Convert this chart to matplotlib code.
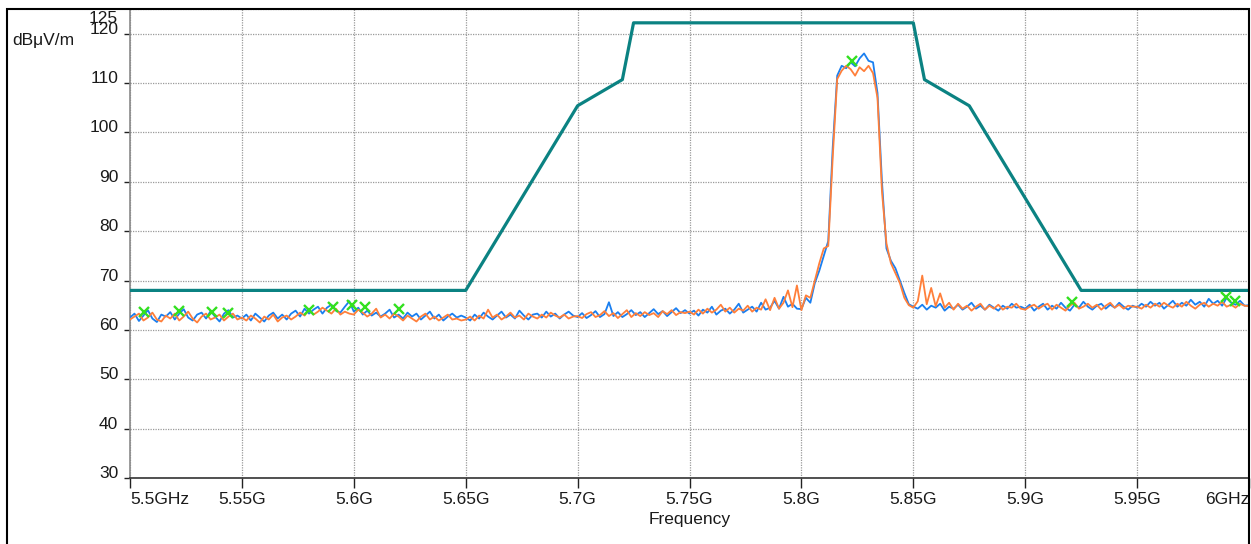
"""
EMC scan: measured field strength traces against a limit mask (5.5 - 6 GHz).
"""
import numpy as np
import matplotlib.pyplot as plt
from matplotlib.patches import Rectangle

plt.rcParams['font.family'] = ['Liberation Sans', 'DejaVu Sans']

# sweep grid, 2 MHz steps, GHz
freq = np.linspace(5.5, 6.0, 251)

# trace 1 (blue), dBuV/m, one row per 50 MHz
trace_blue = [
    62.5, 63.3, 61.8, 62.9, 64.0, 62.3, 61.6, 63.1, 62.7, 63.6, 62.1, 63.3, 64.2, 62.5, 61.9, 63.1, 63.5, 62.3, 63.8, 62.7, 61.7, 63.3, 64.0, 62.5, 62.9,
    62.3, 63.1, 61.9, 63.3, 62.5, 61.7, 62.9, 63.5, 62.3, 63.1, 62.1, 63.3, 63.9, 62.7, 64.3, 63.3, 64.1, 64.7, 63.3, 64.5, 65.1, 63.9, 63.5, 64.7, 65.8,
    63.7, 64.5, 63.1, 63.9, 62.9, 63.5, 62.7, 63.3, 64.1, 62.5, 63.1, 62.3, 63.5, 62.7, 63.3, 62.1, 62.9, 63.7, 62.3, 63.1, 61.9, 62.7, 63.3, 62.5, 62.9,
    62.5, 61.9, 63.1, 62.3, 63.5, 62.7, 62.1, 62.9, 63.7, 62.5, 63.1, 62.3, 63.9, 62.9, 62.1, 63.1, 63.3, 62.5, 63.7, 62.7, 63.3, 62.3, 63.1, 63.7, 62.9,
    62.6, 63.4, 62.4, 63.0, 63.8, 62.6, 63.2, 65.6, 62.8, 63.6, 62.6, 63.2, 64.0, 63.0, 63.6, 62.6, 63.4, 64.2, 63.2, 63.8, 62.8, 63.6, 64.4, 63.4, 64.0,
    63.3, 63.9, 62.9, 64.1, 63.5, 64.7, 63.1, 63.9, 64.3, 63.3, 64.1, 65.3, 63.5, 64.1, 64.7, 63.7, 65.5, 64.1, 64.5, 65.9, 64.3, 66.7, 64.7, 65.3, 64.3,
    64.2, 66.5, 65.5, 69.5, 72.0, 75.0, 78.0, 97.0, 111.5, 113.5, 113.0, 114.2, 113.4, 115.0, 116.0, 114.5, 114.2, 108.0, 90.0, 76.5, 74.0, 72.5, 70.0, 67.5, 65.2,
    64.7, 64.3, 65.1, 64.1, 64.9, 64.5, 65.3, 63.9, 64.7, 64.3, 65.1, 64.1, 64.7, 65.5, 64.3, 64.9, 64.1, 65.1, 64.5, 63.9, 64.9, 64.3, 65.3, 64.5, 64.7,
    64.3, 65.1, 63.9, 64.7, 65.3, 64.1, 64.9, 64.3, 65.5, 64.5, 63.9, 65.1, 64.5, 65.7, 64.7, 64.1, 64.9, 65.3, 64.3, 65.1, 64.5, 65.5, 64.7, 64.1, 64.9,
    64.5, 65.3, 64.7, 65.7, 64.9, 65.5, 64.3, 65.1, 65.9, 64.7, 65.5, 64.9, 66.1, 65.1, 65.7, 64.7, 66.3, 65.3, 65.9, 64.9, 66.5, 65.5, 65.1, 65.9, 64.9,
    65.0,
]

# trace 2 (orange)
trace_orange = [
    62.1, 62.7, 63.3, 61.9, 62.5, 63.5, 62.1, 61.7, 62.9, 62.3, 63.3, 61.9, 62.7, 63.7, 62.3, 61.5, 62.7, 63.3, 62.1, 62.5, 63.1, 61.9, 62.7, 63.3, 62.1,
    62.5, 61.9, 62.9, 62.3, 61.5, 62.7, 62.1, 63.1, 61.7, 62.5, 62.9, 62.1, 62.7, 63.5, 62.9, 64.1, 63.1, 63.7, 64.5, 63.9, 63.3, 64.3, 63.1, 63.7, 63.3,
    63.1, 64.1, 63.5, 62.7, 63.3, 64.3, 62.5, 63.1, 62.3, 63.3, 62.7, 61.9, 62.9, 62.3, 61.7, 62.7, 63.3, 62.1, 62.7, 61.9, 62.5, 63.1, 62.1, 62.3, 61.9,
    62.1, 62.7, 61.9, 62.9, 62.3, 64.1, 62.5, 63.1, 62.1, 62.7, 63.5, 62.5, 62.9, 62.1, 63.3, 62.7, 62.3, 63.1, 62.5, 63.5, 62.9, 62.5, 63.1, 62.3, 62.7,
    62.8, 62.4, 63.2, 63.6, 62.6, 63.0, 63.8, 62.8, 63.4, 62.4, 63.2, 64.0, 62.6, 63.4, 62.8, 63.6, 63.0, 63.4, 62.6, 63.8, 63.2, 64.0, 63.0, 63.6, 63.4,
    63.7, 63.1, 64.1, 63.3, 64.3, 63.5, 64.1, 65.1, 63.7, 64.5, 63.5, 64.3, 63.9, 64.9, 63.7, 64.5, 64.1, 66.2, 64.0, 66.5, 64.3, 65.5, 68.0, 64.6, 69.0,
    64.0, 67.0, 66.5, 70.0, 73.5, 76.5, 77.0, 95.0, 110.8, 112.5, 113.5, 112.8, 111.5, 113.2, 112.4, 113.5, 112.0, 107.0, 88.0, 77.5, 73.5, 71.5, 69.5, 66.5, 65.0,
    64.5, 65.8, 71.0, 65.2, 68.5, 64.8, 67.4, 64.5, 65.5, 64.1, 65.3, 64.3, 64.9, 63.9, 64.7, 65.3, 64.1, 64.9, 64.3, 65.1, 64.1, 64.7, 64.5, 65.3, 64.3,
    64.1, 64.7, 65.1, 64.3, 64.9, 65.3, 64.1, 65.1, 64.5, 63.9, 64.9, 65.5, 64.3, 64.7, 65.3, 64.5, 65.1, 64.1, 64.9, 65.5, 64.5, 65.1, 64.3, 64.9, 64.7,
    64.7, 64.3, 65.1, 64.5, 65.3, 64.7, 65.5, 64.9, 64.5, 65.3, 64.7, 65.7, 64.9, 64.3, 65.1, 65.5, 64.7, 65.3, 64.9, 65.7, 64.7, 65.1, 64.5, 65.3, 64.9,
    64.8,
]

# limit mask
limit_freq = [5.5, 5.65, 5.7, 5.72, 5.725, 5.85, 5.855, 5.875, 5.925, 6.0]
limit_level = [68.0, 68.0, 105.4, 110.7, 122.2, 122.2, 110.7, 105.4, 68.0, 68.0]

# peak markers
peak_freq = [5.5064, 5.5217, 5.5365, 5.5436, 5.5802, 5.5908, 5.5992, 5.6052, 5.6204,
             5.8225, 5.9208, 5.9899, 5.9938]
peak_level = [63.7, 63.8, 63.7, 63.5, 64.1, 64.6, 65.0, 64.7, 64.2,
              114.5, 65.7, 66.6, 65.9]

xticks = [5.5, 5.55, 5.6, 5.65, 5.7, 5.75, 5.8, 5.85, 5.9, 5.95, 6.0]
xtick_labels = ['5.5GHz', '5.55G', '5.6G', '5.65G', '5.7G', '5.75G', '5.8G',
                '5.85G', '5.9G', '5.95G', '6GHz']
yticks = [30, 40, 50, 60, 70, 80, 90, 100, 110, 120]

FS = 12.5
TXT = '#1a1a1a'

fig = plt.figure(figsize=(12.51, 5.44), dpi=100)
W, H = 1251, 544
ax = fig.add_axes([130 / W, 1 - 478 / H, (1249 - 130) / W, (478 - 9) / H])

ax.plot(freq, trace_blue, color='#1a7ff0', lw=1.3, zorder=3)
ax.plot(freq, trace_orange, color='#ff7f3a', lw=1.3, zorder=4)
ax.plot(limit_freq, limit_level, color='#0b8282', lw=2.3, zorder=5)
ax.plot(peak_freq, peak_level, ls='none', marker='x', ms=6.5, mew=1.7,
        color='#33e020', zorder=6)

ax.set_xlim(5.5, 6.0)
ax.set_ylim(30, 125)

ax.set_xticks(xticks)
ax.set_xticklabels(xtick_labels, fontsize=FS)
labs = ax.get_xticklabels()
labs[0].set_ha('left')
labs[-1].set_ha('right')

ax.set_yticks(yticks)
ax.set_yticklabels([str(v) for v in yticks], fontsize=FS)
for lab in ax.get_yticklabels():
    lab.set_va('baseline')
# the "125" top label, squeezed onto the 120 one as in the original
ax.annotate('125', xy=(0, 125), xycoords=('axes fraction', 'data'),
            xytext=(-8.5, -10), textcoords='offset points',
            ha='right', va='baseline', fontsize=FS, color=TXT)

ax.tick_params(axis='x', direction='out', length=7, width=1, pad=3,
               colors='#222222', labelcolor=TXT)
ax.tick_params(axis='y', direction='out', length=4, width=1, pad=4.5,
               colors='#222222', labelcolor=TXT)

ax.grid(True, color='#9a9a9a', ls=(0, (1, 1)), lw=0.9, zorder=1)
ax.axhline(125, color='#9a9a9a', ls=(0, (1, 1)), lw=0.9)

ax.spines['left'].set_color('#8a8a8a')
ax.spines['bottom'].set_color('#333333')
ax.spines['top'].set_color('black')
ax.spines['right'].set_color('black')
for s in ax.spines.values():
    s.set_linewidth(1.2)

ax.set_xlabel('Frequency', fontsize=FS, labelpad=4, color=TXT)
fig.text(12 / W, 1 - 40 / H, 'dBμV/m', fontsize=FS, ha='left', va='center',
         color=TXT)

# outer frame around the whole view
fig.patches.append(Rectangle((7 / W, -0.05), (1249 - 7) / W, 1.05 - 9 / H,
                             transform=fig.transFigure, fill=False,
                             ec='black', lw=1.5))

fig.savefig('out.png', dpi=100)
